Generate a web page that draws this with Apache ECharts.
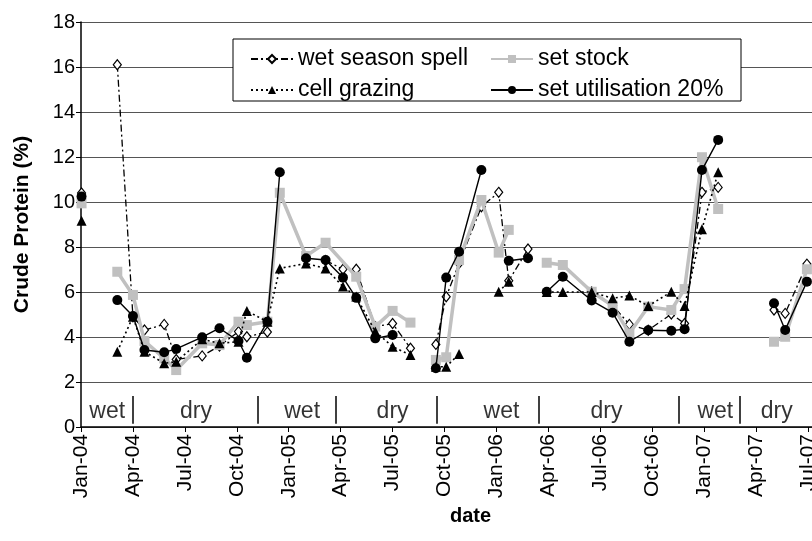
<!DOCTYPE html>
<html><head><meta charset="utf-8">
<script src="https://cdn.jsdelivr.net/npm/echarts@6/dist/echarts.min.js"></script>
<style>html,body{margin:0;padding:0;background:#fff}#c{width:812px;height:541px}</style>
</head><body><div id="c"></div>
<script>
// ---------- data ----------
const GAP = null;
const xTickLabels = ['Jan-04','Apr-04','Jul-04','Oct-04','Jan-05','Apr-05','Jul-05','Oct-05',
  'Jan-06','Apr-06','Jul-06','Oct-06','Jan-07','Apr-07','Jul-07','Oct-07'];
const yTicks = [0,2,4,6,8,10,12,14,16,18];

const wetSeasonSpell = [
  ['2004-01-02',10.4], GAP,
  ['2004-03-04',16.1],['2004-04-01',4.9],['2004-04-21',4.31],['2004-05-26',4.56],['2004-06-16',3.0],
  ['2004-08-01',3.16],['2004-09-01',3.6],['2004-10-04',4.24],['2004-10-19',4.01],['2004-11-24',4.22], GAP,
  ['2005-03-05',7.4],['2005-04-05',7.01],['2005-04-28',7.01],['2005-06-01',4.46],['2005-07-01',4.6],['2005-08-02',3.5], GAP,
  ['2005-09-16',3.67],['2005-10-04',5.79],['2005-10-27',7.27],['2005-12-05',9.79],['2006-01-05',10.43],['2006-01-23',6.5],['2006-02-24',7.91], GAP,
  ['2006-06-16',6.0],['2006-07-23',5.4],['2006-08-22',4.56],['2006-09-24',4.3],['2006-11-04',5.02],['2006-11-27',4.6],
  ['2006-12-28',10.43],['2007-01-26',10.65], GAP,
  ['2007-05-02',5.2],['2007-05-22',5.05],['2007-06-29',7.24]
];
const setStock = [
  ['2004-01-02',9.94], GAP,
  ['2004-03-04',6.9],['2004-04-01',5.87],['2004-04-21',3.82],['2004-05-26',3.05],['2004-06-16',2.53],
  ['2004-08-01',3.72],['2004-09-01',3.64],['2004-10-04',4.68],['2004-10-19',4.53],['2004-11-24',4.68],
  ['2004-12-16',10.41],['2005-02-01',7.6],['2005-03-05',8.19],['2005-04-28',6.68],['2005-06-01',4.46],
  ['2005-07-01',5.16],['2005-08-02',4.64], GAP,
  ['2005-09-16',2.98],['2005-10-04',3.1],['2005-10-27',7.42],['2005-12-05',10.09],['2006-01-05',7.75],['2006-01-23',8.76], GAP,
  ['2006-03-29',7.3],['2006-04-26',7.2],['2006-06-16',6.01],['2006-07-23',5.39],['2006-08-22',4.16],['2006-09-24',5.35],
  ['2006-11-04',5.2],['2006-11-27',6.13],['2006-12-28',11.99],['2007-01-26',9.69], GAP,
  ['2007-05-02',3.79],['2007-05-22',4.01],['2007-06-29',7.01]
];
const cellGrazing = [
  ['2004-01-02',9.17], GAP,
  ['2004-03-04',3.35],['2004-04-01',4.9],['2004-04-21',3.35],['2004-05-26',2.83],['2004-06-16',2.9],
  ['2004-08-01',3.9],['2004-09-01',3.72],['2004-10-04',3.79],['2004-10-19',5.16],['2004-11-24',4.68],
  ['2004-12-16',7.05],['2005-02-01',7.27],['2005-03-05',7.05],['2005-04-05',6.24],['2005-04-28',5.8],
  ['2005-06-01',4.24],['2005-07-01',3.57],['2005-08-02',3.2], GAP,
  ['2005-09-16',2.68],['2005-10-04',2.68],['2005-10-27',3.24], GAP,
  ['2006-01-05',6.01],['2006-01-23',6.46], GAP,
  ['2006-03-29',6.0],['2006-04-26',6.0],['2006-06-16',6.0],['2006-07-23',5.72],['2006-08-22',5.84],['2006-09-24',5.38],
  ['2006-11-04',6.01],['2006-11-27',5.38],['2006-12-28',8.79],['2007-01-26',11.32]
];
const setUtilisation = [
  ['2004-01-02',10.24], GAP,
  ['2004-03-04',5.64],['2004-04-01',4.93],['2004-04-21',3.42],['2004-05-26',3.32],['2004-06-16',3.47],
  ['2004-08-01',3.99],['2004-09-01',4.39],['2004-10-04',3.82],['2004-10-19',3.08],['2004-11-24',4.68],['2004-12-16',11.32], GAP,
  ['2005-02-01',7.5],['2005-03-05',7.42],['2005-04-05',6.64],['2005-04-28',5.74],['2005-06-01',3.94],['2005-07-01',4.09], GAP,
  ['2005-09-16',2.61],['2005-10-04',6.64],['2005-10-27',7.79],['2005-12-05',11.42], GAP,
  ['2006-01-23',7.39],['2006-02-24',7.5], GAP,
  ['2006-03-29',6.01],['2006-04-26',6.68],['2006-06-16',5.62],['2006-07-23',5.08],['2006-08-22',3.79],['2006-09-24',4.3],
  ['2006-11-04',4.28],['2006-11-27',4.35],['2006-12-28',11.42],['2007-01-26',12.76], GAP,
  ['2007-05-02',5.5],['2007-05-22',4.31],['2007-06-29',6.46]
];
const seasonBoundaries = ['2004-04-01','2004-11-07','2005-03-23','2005-09-17','2006-03-15','2006-11-17','2007-03-02'];
const seasonLabels = [['wet','2004-02-16'],['dry','2004-07-21'],['wet','2005-01-25'],['dry','2005-07-01'],
  ['wet','2006-01-10'],['dry','2006-07-12'],['wet','2007-01-21'],['dry','2007-05-07']];

// ---------- helpers ----------
function toMonths(s){
  const [y,m,d] = s.split('-').map(Number);
  const dim = new Date(y, m, 0).getDate();
  return (y-2004)*12 + (m-1) + (d-1)/dim;
}
function toSeries(arr){ return arr.map(p => p === null ? ['-','-'] : [toMonths(p[0]), p[1]]); }

const FONT = '"Liberation Sans", Arial, sans-serif';
const chart = echarts.init(document.getElementById('c'), null, {renderer:'canvas'});

const legendCommon = {
  orient:'vertical', itemWidth:42, itemHeight:10, itemGap:5, top:41, z:10,
  textStyle:{fontFamily:FONT, fontSize:23, color:'#000', lineHeight:26},
  selectedMode:false
};

chart.setOption({
  animation:false,
  backgroundColor:'#fff',
  textStyle:{fontFamily:FONT},
  grid:{left:81, top:22, height:405, width:779, containLabel:false, outerBoundsMode:'none'},
  graphic:[{type:'rect', shape:{x:233, y:39, width:508, height:62}, style:{fill:'#fff', stroke:'#000', lineWidth:1}, z:5}],
  legend:[
    Object.assign({left:245, data:['wet season spell','cell grazing']}, legendCommon),
    Object.assign({left:485, data:['set stock','set utilisation 20%']}, legendCommon)
  ],
  xAxis:{
    type:'value', min:0, max:45, interval:3,
    name:'date', nameLocation:'middle', nameGap:73,
    nameTextStyle:{fontFamily:FONT, fontSize:20, fontWeight:'bold', color:'#000'},
    axisLine:{show:true, onZero:false, lineStyle:{color:'#000', width:1.5}},
    axisTick:{show:true, length:5, lineStyle:{color:'#000'}},
    axisLabel:{rotate:90, fontSize:21, color:'#000', margin:7, fontFamily:FONT,
      formatter:v => (Math.abs(v/3 - Math.round(v/3)) < 1e-6 ? (xTickLabels[Math.round(v/3)] || '') : '')},
    splitLine:{show:false}
  },
  yAxis:{
    type:'value', min:0, max:18, interval:2,
    name:'Crude Protein (%)', nameLocation:'middle', nameGap:48,
    nameTextStyle:{fontFamily:FONT, fontSize:21, fontWeight:'bold', color:'#000'},
    axisLine:{show:true, lineStyle:{color:'#000', width:1.5}},
    axisTick:{show:true, length:5, lineStyle:{color:'#000'}},
    axisLabel:{fontSize:20, color:'#000', margin:6, fontFamily:FONT,
      formatter:v => yTicks.includes(v) ? String(v) : ''},
    splitLine:{show:true, lineStyle:{color:'#555', width:1}}
  },
  series:[
    {name:'wet season spell', type:'line', data:toSeries(wetSeasonSpell), connectNulls:false,
     symbol:'diamond', symbolSize:[8,10], z:3,
     itemStyle:{color:'#fff', borderColor:'#000', borderWidth:1.2},
     lineStyle:{color:'#000', width:1.3, type:[7,3,2,3]}},
    {name:'set stock', type:'line', data:toSeries(setStock), connectNulls:false,
     symbol:'rect', symbolSize:10, z:4,
     itemStyle:{color:'#c0c0c0'}, lineStyle:{color:'#c0c0c0', width:3.5, type:'solid'}},
    {name:'cell grazing', type:'line', data:toSeries(cellGrazing), connectNulls:false,
     symbol:'triangle', symbolSize:10, z:5,
     itemStyle:{color:'#000'}, lineStyle:{color:'#000', width:1.6, type:[2,3]}},
    {name:'set utilisation 20%', type:'line', data:toSeries(setUtilisation), connectNulls:false,
     symbol:'circle', symbolSize:10, z:6,
     itemStyle:{color:'#000'}, lineStyle:{color:'#000', width:1.4, type:'solid'}},
    {name:'seasons', type:'scatter', silent:true, z:7,
     data:seasonLabels.map(s => [toMonths(s[1]), 0.67, s[0]]),
     symbolSize:1, itemStyle:{color:'rgba(0,0,0,0)'},
     label:{show:true, position:'inside', formatter:p => p.data[2], fontSize:23, color:'#000', fontFamily:FONT},
     markLine:{silent:true, symbol:['none','none'], label:{show:false},
       lineStyle:{color:'#000', width:1.5, type:'solid'},
       data:seasonBoundaries.map(d => [{coord:[toMonths(d),0.15]},{coord:[toMonths(d),1.38]}])}}
  ]
});
</script></body></html>
